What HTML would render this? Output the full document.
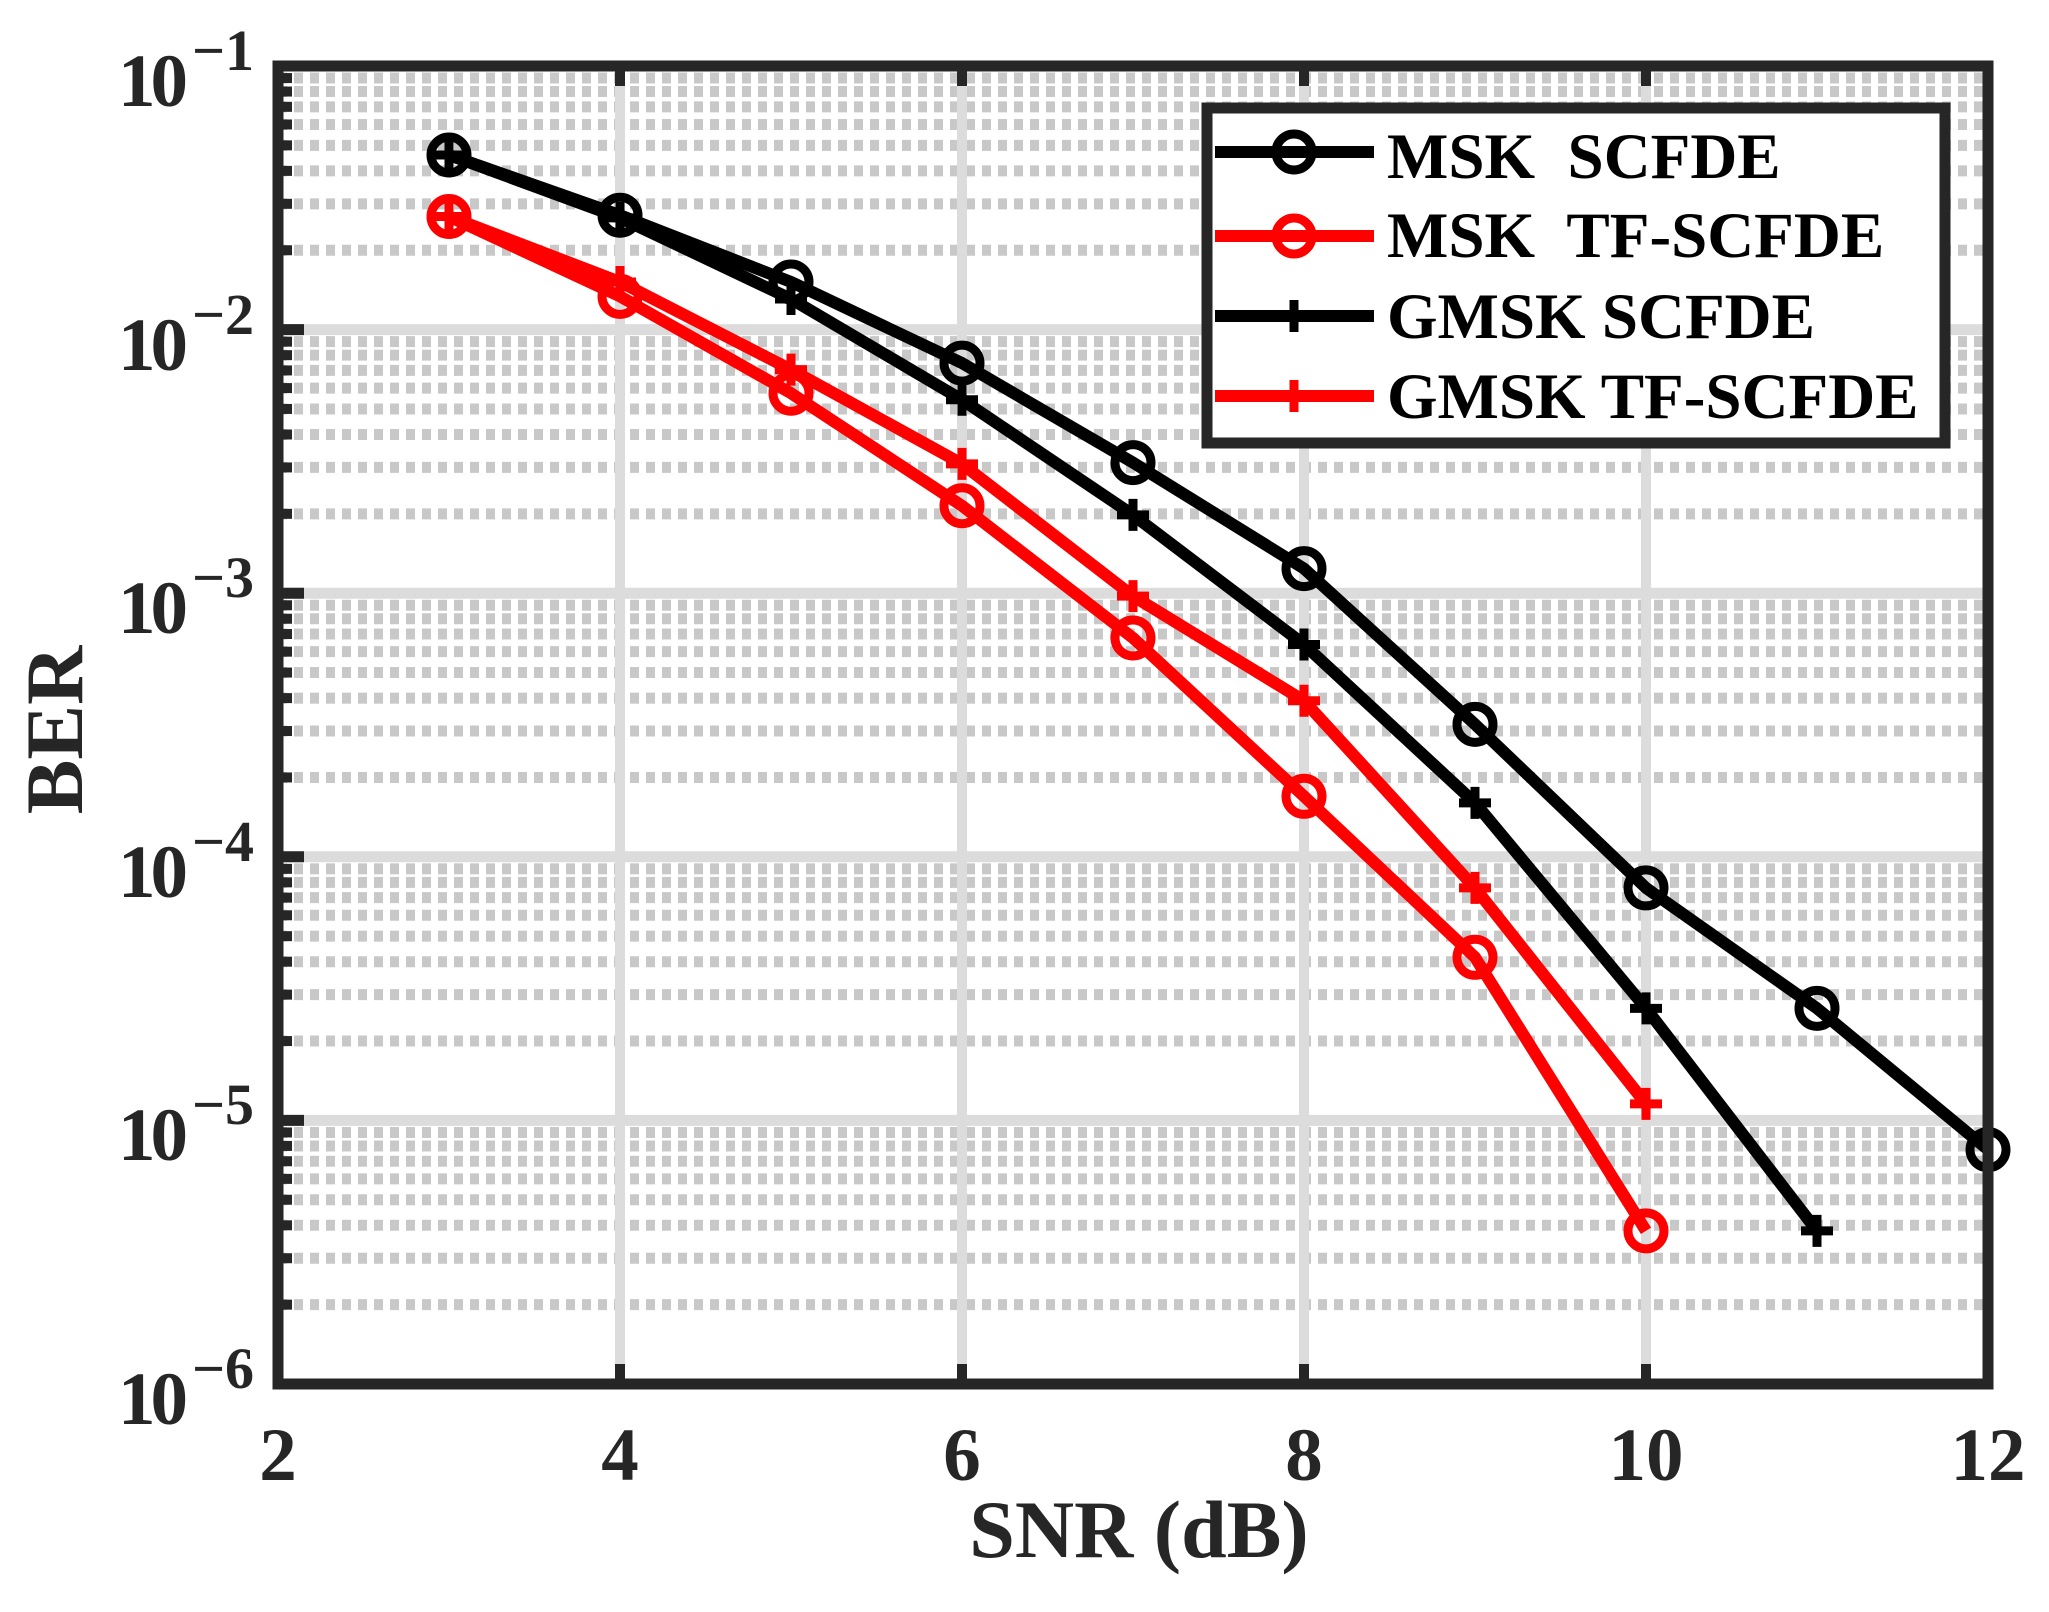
<!DOCTYPE html>
<html><head><meta charset="utf-8"><style>
html,body{margin:0;padding:0;background:#fff}
svg{display:block}
text{font-family:"Liberation Serif",serif;font-weight:bold;fill:#262626}
</style></head><body>
<svg id="s" width="2049" height="1612" viewBox="0 0 2049 1612" xmlns="http://www.w3.org/2000/svg">
<g id="grid"></g>
<g id="series"></g>
<rect x="278" y="66" width="1710" height="1318" fill="none" stroke="#262626" stroke-width="11"/>
<g id="ticks"></g>
<g font-size="75" text-anchor="middle">
<text x="278" y="1480">2</text><text x="620" y="1480">4</text><text x="962" y="1480">6</text>
<text x="1304" y="1480">8</text><text x="1646" y="1480">10</text><text x="1988" y="1480">12</text>
</g>
<g font-size="75">
<text x="118" y="106" textLength="70">10</text><text x="192" y="70" font-size="58">−1</text>
<text x="118" y="370" textLength="70">10</text><text x="192" y="334" font-size="58">−2</text>
<text x="118" y="633" textLength="70">10</text><text x="192" y="597" font-size="58">−3</text>
<text x="118" y="897" textLength="70">10</text><text x="192" y="861" font-size="58">−4</text>
<text x="118" y="1160" textLength="70">10</text><text x="192" y="1124" font-size="58">−5</text>
<text x="118" y="1424" textLength="70">10</text><text x="192" y="1388" font-size="58">−6</text>
</g>
<text x="1139" y="1557" font-size="82" text-anchor="middle">SNR (dB)</text>
<text x="0" y="0" font-size="82" text-anchor="middle" transform="translate(82,730) rotate(-90)">BER</text>
<rect x="1207" y="108" width="738" height="335" fill="#fff" stroke="#262626" stroke-width="11"/>
<g id="leg"></g>
<g font-size="65">
<text x="1387" y="178" style="fill:#000">MSK&#160; SCFDE</text>
<text x="1387" y="257" style="fill:#000">MSK&#160; TF-SCFDE</text>
<text x="1387" y="338" style="fill:#000">GMSK SCFDE</text>
<text x="1387" y="418" style="fill:#000">GMSK TF-SCFDE</text>
</g>
</svg>
<script>
var NS="http://www.w3.org/2000/svg";
function el(p,t,a){var e=document.createElementNS(NS,t);for(var k in a)e.setAttribute(k,a[k]);document.getElementById(p).appendChild(e);return e;}
var X0=278,X1=1988,Y0=66,Y1=1384,D=(Y1-Y0)/5;
function X(v){return X0+(v-2)*(X1-X0)/10;}
for(var d=0;d<5;d++){for(var m=2;m<=9;m++){var y=Y0+D*(d+1)-Math.log10(m)*D;
el("grid","line",{x1:X0,x2:X1,y1:y,y2:y,stroke:"#c8c8c8","stroke-width":11,"stroke-dasharray":"9 7"});
el("ticks","line",{x1:X0,x2:X0+14,y1:y,y2:y,stroke:"#262626","stroke-width":10});}}
for(var d=1;d<5;d++){var y=Y0+D*d;el("grid","line",{x1:X0,x2:X1,y1:y,y2:y,stroke:"#dcdcdc","stroke-width":11});
el("ticks","line",{x1:X0,x2:X0+26,y1:y,y2:y,stroke:"#262626","stroke-width":11});}
for(var v=4;v<=10;v+=2){var x=X(v);el("grid","line",{x1:x,x2:x,y1:Y0,y2:Y1,stroke:"#dcdcdc","stroke-width":10});
el("ticks","line",{x1:x,x2:x,y1:Y0,y2:Y0+20,stroke:"#262626","stroke-width":10});
el("ticks","line",{x1:x,x2:x,y1:Y1,y2:Y1-20,stroke:"#262626","stroke-width":10});}
function Yd(yd){return 66+(yd-50)*1.3088;}
var S=[
{c:"#000",m:"o",x0:3,y:[118,164,215,277,353,434,553,678,770,878]},
{c:"#f00",m:"o",x0:3,y:[165,226,300,386,487,608,731,940]},
{c:"#000",m:"+",x0:3,y:[118,166,228,305,393,492,613,770,940]},
{c:"#f00",m:"+",x0:3,y:[165,215,282,354,455,535,678,843]}];
function marker(g,m,x,y,c){
 if(m=="o")el(g,"circle",{cx:x,cy:y,r:18,fill:"none",stroke:c,"stroke-width":9});
 else{el(g,"line",{x1:x-16,x2:x+16,y1:y,y2:y,stroke:c,"stroke-width":9});el(g,"line",{x1:x,x2:x,y1:y-16,y2:y+16,stroke:c,"stroke-width":9});}
}
[2,3,0,1].forEach(function(i){var s=S[i];var pts=s.y.map(function(yd,j){return [X(s.x0+j),Yd(yd)];});
 el("series","polyline",{points:pts.map(function(p){return p.join(",")}).join(" "),fill:"none",stroke:s.c,"stroke-width":12,"stroke-linejoin":"round"});
 pts.forEach(function(p){marker("series",s.m,p[0],p[1],s.c);});});
var ly=[152,236,316,396];
S.forEach(function(s,i){el("leg","line",{x1:1215,x2:1374,y1:ly[i],y2:ly[i],stroke:s.c,"stroke-width":12});marker("leg",s.m,1294,ly[i],s.c);});
</script>
</body></html>
